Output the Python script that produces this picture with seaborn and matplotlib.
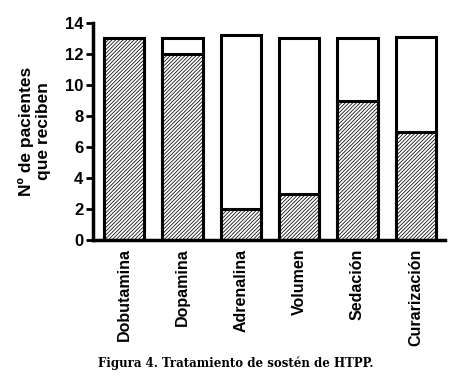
import pandas as pd
import matplotlib
matplotlib.use("Agg")
import matplotlib.pyplot as plt
import seaborn as sns

# datos
tratamientos = ["Dobutamina", "Dopamina", "Adrenalina", "Volumen", "Sedación", "Curarización"]
reciben = [13, 12, 2, 3, 9, 7]
total = [13, 13, 13.2, 13, 13, 13.1]

df = pd.DataFrame({"Tratamiento": tratamientos, "Reciben": reciben, "Total": total})

sns.set_style("ticks")
plt.rcParams["font.family"] = ["Liberation Sans", "DejaVu Sans"]
plt.rcParams["text.color"] = "black"
plt.rcParams["axes.labelcolor"] = "black"
plt.rcParams["xtick.color"] = "black"
plt.rcParams["ytick.color"] = "black"
plt.rcParams["axes.edgecolor"] = "black"
plt.rcParams["hatch.color"] = "#666666"
plt.rcParams["hatch.linewidth"] = 0.55

fig = plt.figure(figsize=(4.5, 3.83), dpi=100)
ax = fig.add_axes([0.207, 0.373, 0.782, 0.567])

# barra total (blanca) y encima la parte que recibe (rayada)
sns.barplot(x="Tratamiento", y="Total", data=df, color="white", edgecolor="black",
            linewidth=2.2, width=0.69, ax=ax, saturation=1)
sns.barplot(x="Tratamiento", y="Reciben", data=df, color="white", edgecolor="black",
            linewidth=2.2, width=0.69, ax=ax, saturation=1)
for p in ax.patches[len(tratamientos):]:
    p.set_hatch("/////////")

ax.set_ylim(0, 14)
ax.set_xlim(-0.53, 5.5)
ax.set_yticks(range(0, 15, 2))
ax.set_xlabel("")
ax.set_ylabel("Nº de pacientes\nque reciben", fontsize=12.5, fontweight="bold", labelpad=10)
ax.tick_params(axis="y", labelsize=12, width=2, length=5, direction="out", pad=2)
ax.tick_params(axis="x", length=0, labelsize=11.5, pad=6)
for lbl in ax.get_xticklabels():
    lbl.set_rotation(90)
    lbl.set_fontweight("bold")
for lbl in ax.get_yticklabels():
    lbl.set_fontweight("bold")

sns.despine(ax=ax)
ax.spines["left"].set_linewidth(2.5)
ax.spines["bottom"].set_linewidth(2.5)

fig.text(0.525, 0.052, "Figura 4. Tratamiento de sostén de HTPP.", ha="center", va="center",
         fontsize=8.5, fontweight="bold", family="DejaVu Serif")

plt.savefig("out.png", dpi=100)
